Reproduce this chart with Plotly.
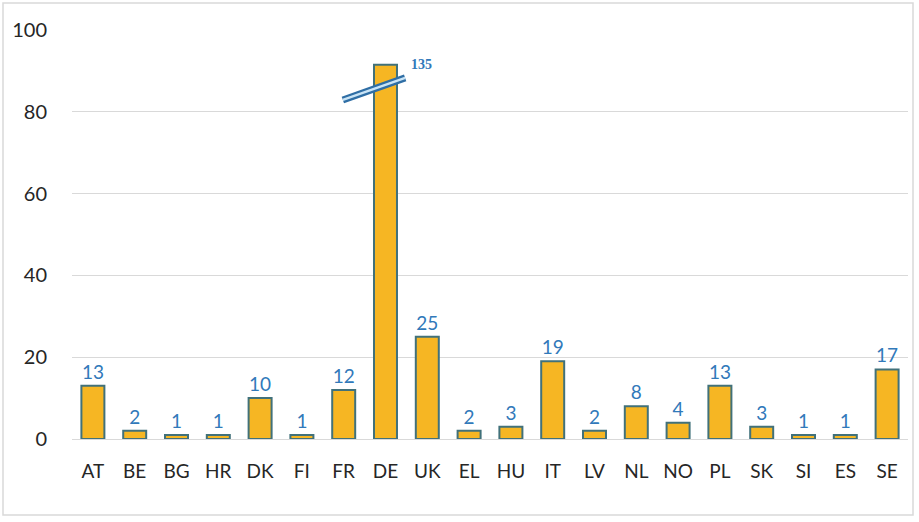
import plotly.graph_objects as go

# Country codes and counts
countries = ["AT", "BE", "BG", "HR", "DK", "FI", "FR", "DE", "UK", "EL",
             "HU", "IT", "LV", "NL", "NO", "PL", "SK", "SI", "ES", "SE"]
counts = [13, 2, 1, 1, 10, 1, 12, 135, 25, 2, 3, 19, 2, 8, 4, 13, 3, 1, 1, 17]

# Broken-axis display: bars taller than this are drawn cut off with a break mark
axis_cap = 91.5

W, H = 919, 522
ML, MR, MT, MB = 72, 11, 30, 83

shown = [min(v, axis_cap) for v in counts]
labels = ["" if v > axis_cap else str(v) for v in counts]

BAR_FILL = "#F6B623"
BAR_EDGE = "#41717A"
LABEL_BLUE = "#3179BA"

fig = go.Figure()
fig.add_trace(go.Bar(
    x=countries,
    y=shown,
    text=labels,
    textposition="outside",
    textfont=dict(family="Lato, sans-serif", size=19, color=LABEL_BLUE),
    marker=dict(color=BAR_FILL, line=dict(color=BAR_EDGE, width=2)),
    width=0.55,
    cliponaxis=False,
    hoverinfo="x+y",
))

# Break mark and true value for capped bars
for i, v in enumerate(counts):
    if v > axis_cap:
        x0, x1 = i - 1.02, i + 0.47
        y0, y1 = axis_cap - 8.6, axis_cap - 3.2
        fig.add_shape(type="line", xref="x", yref="y", x0=x0, x1=x1, y0=y0, y1=y1,
                      line=dict(color="#2F6EA5", width=7), layer="above")
        fig.add_shape(type="line", xref="x", yref="y", x0=x0, x1=x1, y0=y0, y1=y1,
                      line=dict(color="#C9E4F6", width=2.5), layer="above")
        fig.add_annotation(x=i + 0.85, y=axis_cap, xref="x", yref="y",
                           text="<b>%d</b>" % v, showarrow=False,
                           font=dict(family="Liberation Serif, serif", size=14,
                                     color=LABEL_BLUE))

# Light frame around the whole chart
pw, ph = W - ML - MR, H - MT - MB
def px_x(p):
    return (p - ML) / pw
def px_y(p):
    return (H - MB - p) / ph
fig.add_shape(type="rect", xref="paper", yref="paper",
              x0=px_x(3), x1=px_x(913), y0=px_y(515), y1=px_y(3),
              line=dict(color="#D9D9D9", width=1.5), fillcolor="rgba(0,0,0,0)")

fig.update_layout(
    width=W, height=H,
    margin=dict(l=ML, r=MR, t=MT, b=MB),
    paper_bgcolor="white",
    plot_bgcolor="white",
    showlegend=False,
    font=dict(family="Lato, sans-serif", size=19, color="#262626"),
    xaxis=dict(
        type="category",
        range=[-0.5, len(countries) - 0.5],
        showgrid=False,
        zeroline=False,
        showline=True,
        linecolor="#D9D9D9",
        linewidth=1,
        ticks="",
        ticklabelstandoff=15,
        tickfont=dict(size=19, color="#262626"),
    ),
    yaxis=dict(
        range=[0, 100],
        tickvals=[0, 20, 40, 60, 80, 100],
        showgrid=True,
        gridcolor="#D9D9D9",
        gridwidth=1,
        zeroline=False,
        showline=False,
        ticks="",
        ticklabelstandoff=24,
        tickfont=dict(size=20, color="#262626"),
    ),
    bargap=0.45,
)

fig.write_html("out.html")
